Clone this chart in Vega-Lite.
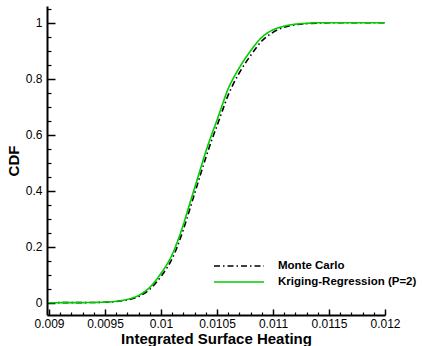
{
  "$schema": "https://vega.github.io/schema/vega-lite/v6.json",
  "width": 338,
  "height": 309,
  "autosize": "none",
  "padding": {"left": 47, "top": 6, "right": 37, "bottom": 31},
  "background": "white",
  "config": {
    "view": {"stroke": null},
    "font": "Liberation Sans",
    "axis": {"grid": false, "domainColor": "black", "tickColor": "black", "labelColor": "black", "titleColor": "black", "labelFont": "Liberation Sans", "titleFont": "Liberation Sans", "labelFontSize": 12, "titleFontSize": 15, "titleFontWeight": "bold", "labelFlush": false, "labelOverlap": false},
    "legend": {"title": null, "orient": "none", "legendX": 186, "legendY": 254, "symbolType": "M-5,0H5", "symbolSize": 100, "symbolStrokeWidth": 1.6, "labelFont": "Liberation Sans", "labelFontSize": 11.5, "labelFontWeight": "bold", "labelColor": "black", "labelOffset": 33, "rowPadding": 4, "padding": 0}
  },
  "datasets": {
    "cdf": [
      {"x": 0.009, "cdf": 0, "series": "Monte Carlo"},
      {"x": 0.0093, "cdf": 0.0003, "series": "Monte Carlo"},
      {"x": 0.0095, "cdf": 0.0015, "series": "Monte Carlo"},
      {"x": 0.0096, "cdf": 0.004, "series": "Monte Carlo"},
      {"x": 0.0097, "cdf": 0.01, "series": "Monte Carlo"},
      {"x": 0.0098, "cdf": 0.022, "series": "Monte Carlo"},
      {"x": 0.0099, "cdf": 0.048, "series": "Monte Carlo"},
      {"x": 0.01, "cdf": 0.094, "series": "Monte Carlo"},
      {"x": 0.01005, "cdf": 0.122, "series": "Monte Carlo"},
      {"x": 0.0101, "cdf": 0.158, "series": "Monte Carlo"},
      {"x": 0.01015, "cdf": 0.205, "series": "Monte Carlo"},
      {"x": 0.0102, "cdf": 0.262, "series": "Monte Carlo"},
      {"x": 0.01025, "cdf": 0.325, "series": "Monte Carlo"},
      {"x": 0.0103, "cdf": 0.39, "series": "Monte Carlo"},
      {"x": 0.01035, "cdf": 0.455, "series": "Monte Carlo"},
      {"x": 0.0104, "cdf": 0.518, "series": "Monte Carlo"},
      {"x": 0.01045, "cdf": 0.578, "series": "Monte Carlo"},
      {"x": 0.0105, "cdf": 0.632, "series": "Monte Carlo"},
      {"x": 0.01055, "cdf": 0.688, "series": "Monte Carlo"},
      {"x": 0.0106, "cdf": 0.742, "series": "Monte Carlo"},
      {"x": 0.01065, "cdf": 0.785, "series": "Monte Carlo"},
      {"x": 0.0107, "cdf": 0.822, "series": "Monte Carlo"},
      {"x": 0.0108, "cdf": 0.883, "series": "Monte Carlo"},
      {"x": 0.0109, "cdf": 0.935, "series": "Monte Carlo"},
      {"x": 0.011, "cdf": 0.966, "series": "Monte Carlo"},
      {"x": 0.0111, "cdf": 0.984, "series": "Monte Carlo"},
      {"x": 0.0112, "cdf": 0.993, "series": "Monte Carlo"},
      {"x": 0.0113, "cdf": 0.997, "series": "Monte Carlo"},
      {"x": 0.0114, "cdf": 0.999, "series": "Monte Carlo"},
      {"x": 0.0115, "cdf": 1, "series": "Monte Carlo"},
      {"x": 0.012, "cdf": 1, "series": "Monte Carlo"},
      {"x": 0.009, "cdf": 0, "series": "Kriging-Regression (P=2)"},
      {"x": 0.0092, "cdf": 0.0001, "series": "Kriging-Regression (P=2)"},
      {"x": 0.0094, "cdf": 0.0008, "series": "Kriging-Regression (P=2)"},
      {"x": 0.0095, "cdf": 0.002, "series": "Kriging-Regression (P=2)"},
      {"x": 0.0096, "cdf": 0.005, "series": "Kriging-Regression (P=2)"},
      {"x": 0.0097, "cdf": 0.012, "series": "Kriging-Regression (P=2)"},
      {"x": 0.0098, "cdf": 0.026, "series": "Kriging-Regression (P=2)"},
      {"x": 0.0099, "cdf": 0.055, "series": "Kriging-Regression (P=2)"},
      {"x": 0.01, "cdf": 0.105, "series": "Kriging-Regression (P=2)"},
      {"x": 0.01005, "cdf": 0.135, "series": "Kriging-Regression (P=2)"},
      {"x": 0.0101, "cdf": 0.172, "series": "Kriging-Regression (P=2)"},
      {"x": 0.01015, "cdf": 0.222, "series": "Kriging-Regression (P=2)"},
      {"x": 0.0102, "cdf": 0.28, "series": "Kriging-Regression (P=2)"},
      {"x": 0.01025, "cdf": 0.345, "series": "Kriging-Regression (P=2)"},
      {"x": 0.0103, "cdf": 0.41, "series": "Kriging-Regression (P=2)"},
      {"x": 0.01035, "cdf": 0.475, "series": "Kriging-Regression (P=2)"},
      {"x": 0.0104, "cdf": 0.54, "series": "Kriging-Regression (P=2)"},
      {"x": 0.01045, "cdf": 0.598, "series": "Kriging-Regression (P=2)"},
      {"x": 0.0105, "cdf": 0.652, "series": "Kriging-Regression (P=2)"},
      {"x": 0.01055, "cdf": 0.71, "series": "Kriging-Regression (P=2)"},
      {"x": 0.0106, "cdf": 0.765, "series": "Kriging-Regression (P=2)"},
      {"x": 0.01065, "cdf": 0.805, "series": "Kriging-Regression (P=2)"},
      {"x": 0.0107, "cdf": 0.84, "series": "Kriging-Regression (P=2)"},
      {"x": 0.0108, "cdf": 0.9, "series": "Kriging-Regression (P=2)"},
      {"x": 0.0109, "cdf": 0.948, "series": "Kriging-Regression (P=2)"},
      {"x": 0.011, "cdf": 0.975, "series": "Kriging-Regression (P=2)"},
      {"x": 0.0111, "cdf": 0.988, "series": "Kriging-Regression (P=2)"},
      {"x": 0.0112, "cdf": 0.995, "series": "Kriging-Regression (P=2)"},
      {"x": 0.0113, "cdf": 0.998, "series": "Kriging-Regression (P=2)"},
      {"x": 0.0114, "cdf": 1, "series": "Kriging-Regression (P=2)"},
      {"x": 0.012, "cdf": 1, "series": "Kriging-Regression (P=2)"}
    ]
  },
  "data": {"name": "cdf"},
  "resolve": {"axis": {"x": "independent", "y": "independent"}},
  "layer": [
    {
      "transform": [{"filter": "datum.series === 'Monte Carlo'"}],
      "mark": {"type": "line", "interpolate": "monotone", "strokeWidth": 1.6, "clip": true},
      "encoding": {
        "x": {"field": "x", "type": "quantitative", "scale": {"domain": [0.008982, 0.012], "nice": false, "zero": false},
          "axis": {"orient": "bottom", "title": "Integrated Surface Heating", "values": [0.009, 0.0095, 0.01, 0.0105, 0.011, 0.0115, 0.012], "format": "~g", "tickSize": -6, "tickWidth": 1.5, "domainWidth": 2, "labelPadding": 9, "titlePadding": 2}},
        "y": {"field": "cdf", "type": "quantitative", "scale": {"domain": [-0.044, 1.06], "nice": false, "zero": false},
          "axis": {"orient": "left", "title": "CDF", "values": [0, 0.2, 0.4, 0.6, 0.8, 1], "format": "~g", "tickSize": -8, "tickWidth": 1.5, "domainWidth": 2, "labelPadding": 13, "titlePadding": 4}},
        "color": {"field": "series", "type": "nominal", "scale": {"domain": ["Monte Carlo", "Kriging-Regression (P=2)"], "range": ["#000000", "#00cc00"]}},
        "strokeDash": {"field": "series", "type": "nominal", "scale": {"domain": ["Monte Carlo", "Kriging-Regression (P=2)"], "range": [[6, 3, 1.5, 3], [1, 0]]}}
      }
    },
    {
      "transform": [{"filter": "datum.series === 'Kriging-Regression (P=2)'"}],
      "mark": {"type": "line", "interpolate": "monotone", "strokeWidth": 1.6, "clip": true},
      "encoding": {
        "x": {"field": "x", "type": "quantitative",
          "axis": {"orient": "bottom", "title": null, "labels": false, "domain": false, "tickSize": -3, "tickWidth": 1.2, "values": [0.0091, 0.0092, 0.0093, 0.0094, 0.0096, 0.0097, 0.0098, 0.0099, 0.0101, 0.0102, 0.0103, 0.0104, 0.0106, 0.0107, 0.0108, 0.0109, 0.0111, 0.0112, 0.0113, 0.0114, 0.0116, 0.0117, 0.0118, 0.0119]}},
        "y": {"field": "cdf", "type": "quantitative",
          "axis": {"orient": "left", "title": null, "labels": false, "domain": false, "tickSize": -4, "tickWidth": 1.2, "values": [0.05, 0.1, 0.15, 0.25, 0.3, 0.35, 0.45, 0.5, 0.55, 0.65, 0.7, 0.75, 0.85, 0.9, 0.95, 1.05]}},
        "color": {"field": "series", "type": "nominal"},
        "strokeDash": {"field": "series", "type": "nominal"}
      }
    }
  ]
}
